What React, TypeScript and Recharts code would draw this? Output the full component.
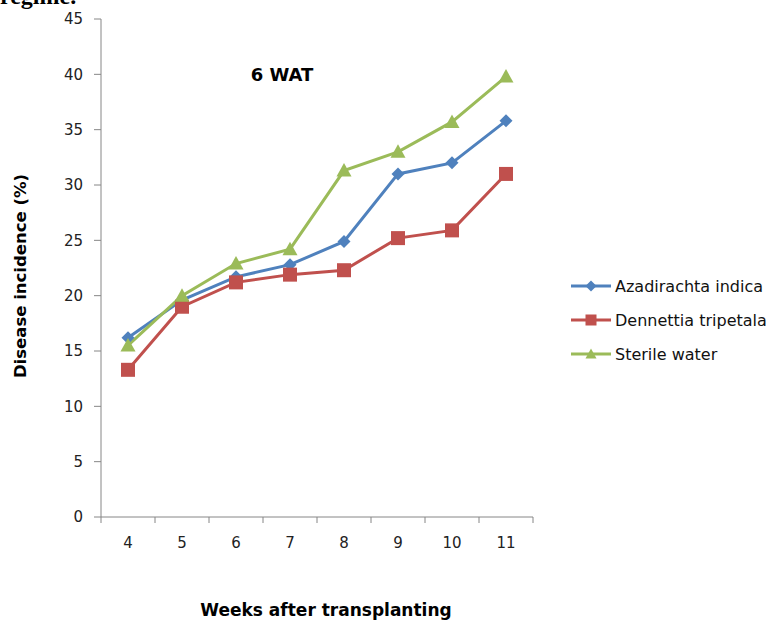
import { LineChart, Line, XAxis, YAxis, Legend } from 'recharts';

// Disease incidence (%) per week after transplanting, 6 WAT trial
const weeks = ['4', '5', '6', '7', '8', '9', '10', '11'];
const azadirachta = [16.2, 19.6, 21.7, 22.8, 24.9, 31.0, 32.0, 35.8];
const dennettia = [13.3, 19.0, 21.2, 21.9, 22.3, 25.2, 25.9, 31.0];
const sterileWater = [15.5, 20.0, 22.9, 24.2, 31.3, 33.0, 35.7, 39.8];
const yTicks = [0, 5, 10, 15, 20, 25, 30, 35, 40, 45];

const data = weeks.map((week, i) => ({
  week,
  aza: azadirachta[i],
  den: dennettia[i],
  ster: sterileWater[i],
}));

const FONT = '"DejaVu Sans", sans-serif';
const AXIS = '#868686';
const BAND = 54;

type Shape = 'diamond' | 'square' | 'triangle';

const series: { key: string; name: string; color: string; shape: Shape }[] = [
  { key: 'aza', name: 'Azadirachta indica', color: '#4F81BD', shape: 'diamond' },
  { key: 'den', name: 'Dennettia tripetala', color: '#C0504D', shape: 'square' },
  { key: 'ster', name: 'Sterile water', color: '#9BBB59', shape: 'triangle' },
];

function Marker({ cx, cy, shape, fill, s }: { cx: number; cy: number; shape: Shape; fill: string; s: number }) {
  if (shape === 'diamond') {
    return <polygon points={`${cx},${cy - s} ${cx + s},${cy} ${cx},${cy + s} ${cx - s},${cy}`} fill={fill} />;
  }
  if (shape === 'square') {
    return <rect x={cx - s} y={cy - s} width={s * 2} height={s * 2} fill={fill} />;
  }
  return <polygon points={`${cx},${cy - s} ${cx + s},${cy + s * 0.8} ${cx - s},${cy + s * 0.8}`} fill={fill} />;
}

const markerSize: Record<Shape, number> = { diamond: 6.5, square: 7, triangle: 7.5 };

// category labels sit mid-band, tick marks on the band edges
function WeekTick(props: any) {
  const { x, y, payload, index } = props;
  return (
    <g>
      <line x1={x - BAND / 2} x2={x - BAND / 2} y1={y} y2={y + 6} stroke={AXIS} />
      {index === weeks.length - 1 && (
        <line x1={x + BAND / 2} x2={x + BAND / 2} y1={y} y2={y + 6} stroke={AXIS} />
      )}
      <text x={x} y={y + 31} textAnchor="middle" fontFamily={FONT} fontSize={15} fill="#222">
        {payload.value}
      </text>
    </g>
  );
}

function LegendBox() {
  return (
    <div style={{ fontFamily: FONT, fontSize: 16, color: '#111' }}>
      {series.map((s) => (
        <div key={s.key} style={{ display: 'flex', alignItems: 'center', height: 34 }}>
          <svg width={42} height={16}>
            <line x1={0} x2={40} y1={8} y2={8} stroke={s.color} strokeWidth={3} />
            <Marker cx={20} cy={8} shape={s.shape} fill={s.color} s={5.5} />
          </svg>
          <span style={{ marginLeft: 2, whiteSpace: 'nowrap' }}>{s.name}</span>
        </div>
      ))}
    </div>
  );
}

export default function App() {
  return (
    <div style={{ position: 'absolute', left: 0, top: 0, width: 769, height: 627, background: '#fff' }}>
      <LineChart width={769} height={627} data={data} margin={{ top: 19, right: 236, bottom: 0, left: 0 }}>
        <XAxis
          dataKey="week"
          height={110}
          padding={{ left: BAND / 2, right: BAND / 2 }}
          stroke={AXIS}
          tickLine={false}
          tickSize={0}
          tickMargin={0}
          tick={<WeekTick />}
          interval={0}
        />
        <YAxis
          width={101}
          domain={[0, 45]}
          ticks={yTicks}
          stroke={AXIS}
          tickSize={7}
          tickMargin={11}
          tick={{ fontFamily: FONT, fontSize: 15, fill: '#222' }}
          interval={0}
        />
        <Legend
          layout="vertical"
          align="center"
          verticalAlign="middle"
          content={<LegendBox />}
          wrapperStyle={{ left: 571, top: 269, width: 198 }}
        />
        {series.map((s) => (
          <Line
            key={s.key}
            dataKey={s.key}
            name={s.name}
            stroke={s.color}
            strokeWidth={3}
            isAnimationActive={false}
            dot={(p: any) => (
              <Marker key={`${s.key}-${p.index}`} cx={p.cx} cy={p.cy} shape={s.shape} fill={s.color} s={markerSize[s.shape]} />
            )}
            activeDot={false}
          />
        ))}
        <text x={0} y={4} fontFamily='"Liberation Serif", serif' fontWeight="bold" fontSize={24} fill="#000">
          regime.
        </text>
        <text x={282} y={81} textAnchor="middle" fontFamily={FONT} fontWeight="bold" fontSize={18} fill="#000">
          6 WAT
        </text>
        <text x={326} y={616} textAnchor="middle" fontFamily={FONT} fontWeight="bold" fontSize={17} fill="#000">
          Weeks after transplanting
        </text>
        <text
          transform="translate(26,276) rotate(-90)"
          textAnchor="middle"
          fontFamily={FONT}
          fontWeight="bold"
          fontSize={16.5}
          fill="#000"
        >
          Disease incidence (%)
        </text>
      </LineChart>
    </div>
  );
}
